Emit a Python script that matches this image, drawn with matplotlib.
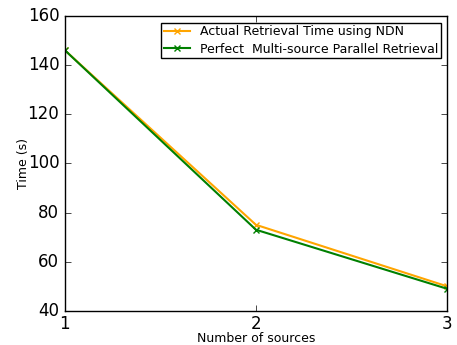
import matplotlib
matplotlib.use("Agg")
import matplotlib.pyplot as plt

sources = [1, 2, 3]
actual_ndn = [146, 75, 50]
perfect_parallel = [146, 73, 49]

plt.style.use("classic")
fig = plt.figure(figsize=(4.57, 3.45), dpi=100, facecolor="white")
ax = fig.add_axes([0.142, 0.099, 0.836, 0.855])

ax.plot(sources, actual_ndn, color="orange", marker="x", markersize=4,
        markeredgewidth=1, linewidth=1.5, label="Actual Retrieval Time using NDN")
ax.plot(sources, perfect_parallel, color="green", marker="x", markersize=4,
        markeredgewidth=1, linewidth=1.5, label="Perfect  Multi-source Parallel Retrieval")

ax.set_xlim(1, 3)
ax.set_ylim(40, 160)
ax.set_xticks([1, 2, 3])
ax.set_yticks(range(40, 161, 20))
ax.tick_params(labelsize=12)
ax.tick_params(axis="x", pad=3)
ax.set_xlabel("Number of sources", fontsize=9)
ax.xaxis.set_label_coords(0.5, -0.072)
ax.set_ylabel("Time (s)", fontsize=9)
ax.yaxis.set_label_coords(-0.092, 0.5)
ax.legend(loc="upper right", bbox_to_anchor=(0.984, 0.976), borderaxespad=0,
          fontsize=9, handlelength=2.1, handletextpad=0.8,
          labelspacing=0.35, borderpad=0.2, numpoints=1)

fig.savefig("out.png", dpi=100, facecolor="white")
